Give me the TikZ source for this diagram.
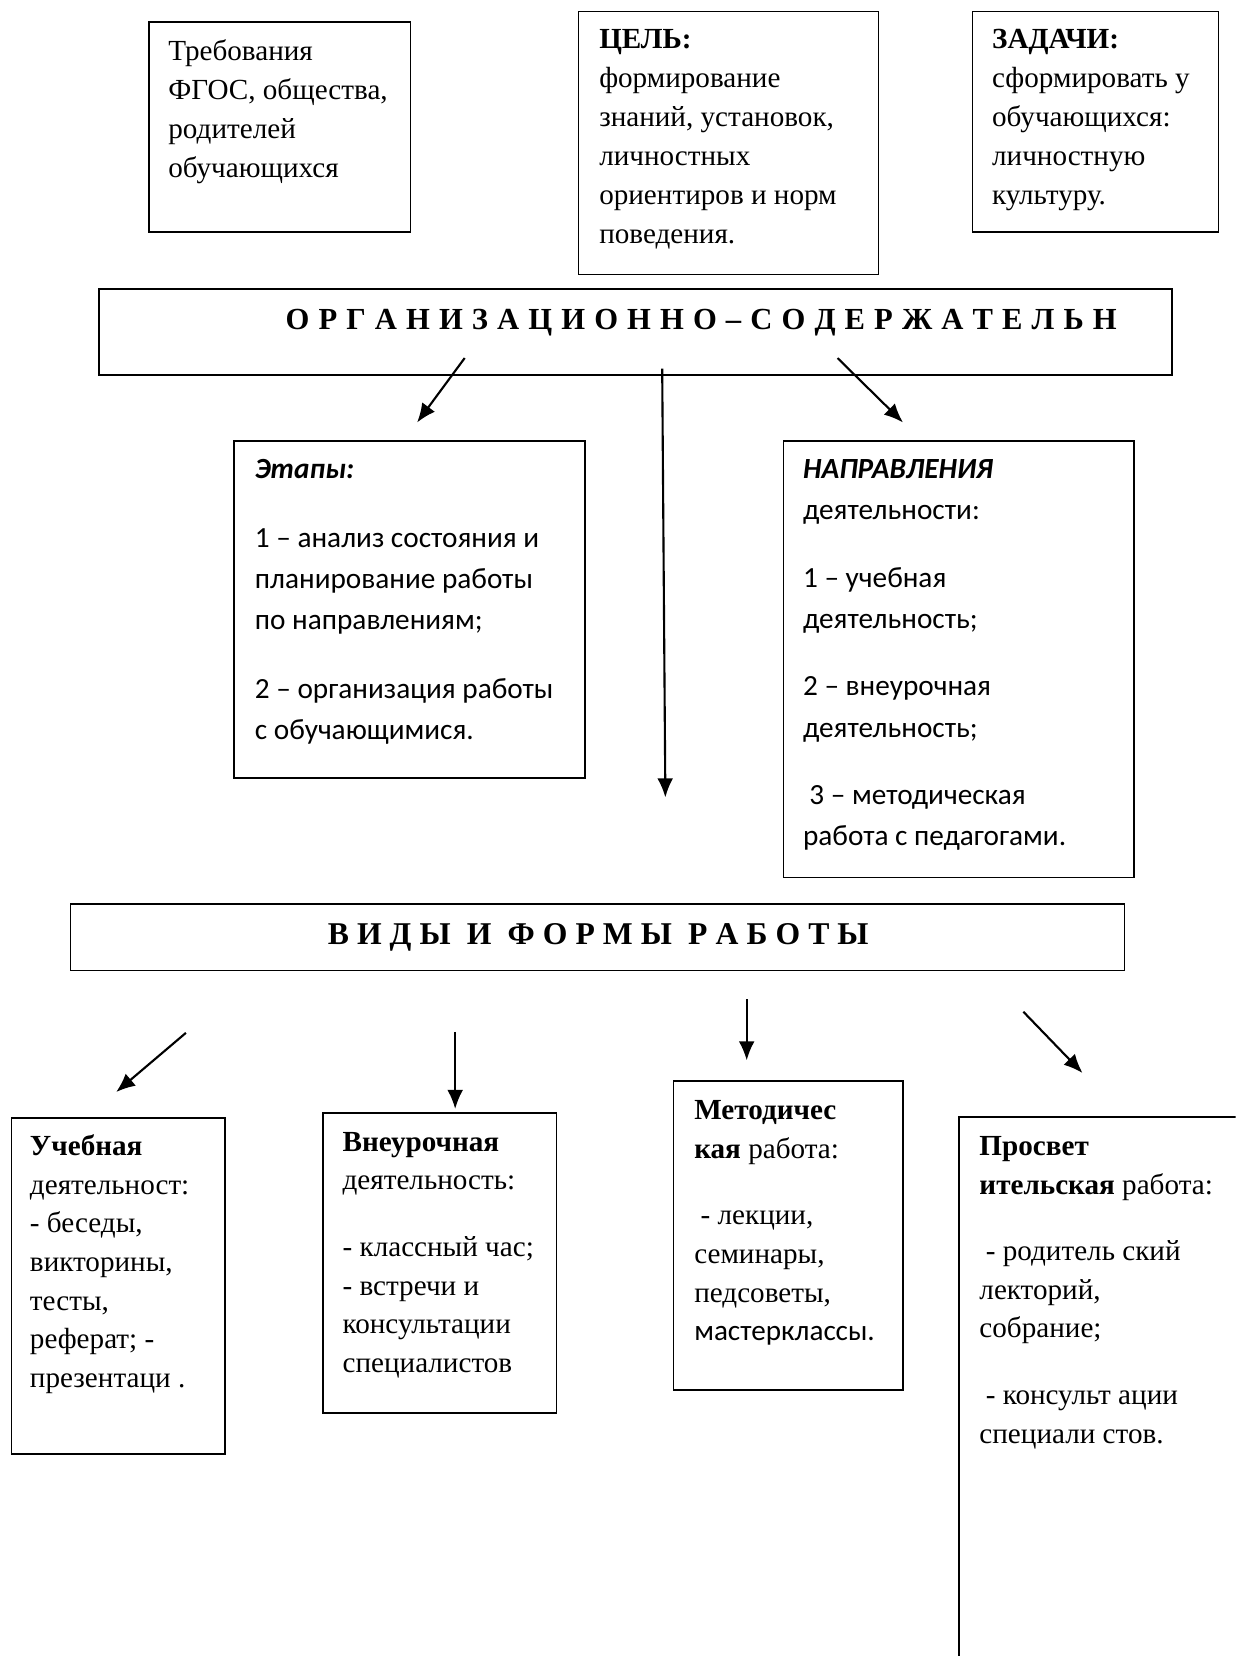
\documentclass[tikz,border=0pt]{standalone}
\usepackage{fontspec}
\setmainfont{Liberation Serif}
\newfontfamily\calib{Carlito}
\usetikzlibrary{arrows.meta}
\begin{document}
\begin{tikzpicture}[x=0.5pt,y=-0.5pt,
  box/.style={draw, line width=0.8pt, rectangle, inner sep=0pt, anchor=north west},
  conn/.style={line width=1pt, -{Latex[length=9pt,width=7.5pt]}},
  sertop/.style={anchor=base west, inner sep=0pt, font=\fontsize{13.8}{18.5}\selectfont},
  serbot/.style={anchor=base west, inner sep=0pt, font=\fontsize{13.8}{18.3}\selectfont},
  cal/.style={anchor=base west, inner sep=0pt, font=\calib\fontsize{13.85}{19.5}\selectfont},
  banner/.style={anchor=base west, inner sep=0pt, font=\bfseries\fontsize{14.5}{16}\selectfont},
]
\clip (0,0) rectangle (1170,1568);
\fill[white] (0,0) rectangle (1170,1568);

% top boxes
\node[box, minimum width=124pt, minimum height=99.5pt] (req) at (140,20) {};
\node[box, minimum width=142pt, minimum height=124.5pt] (goal) at (547,10) {};
\node[box, minimum width=116.5pt, minimum height=104.5pt] (tasks) at (920,10) {};
\node[sertop] (reqt) at (159,57) {\parbox[t]{120pt}{\raggedright Требования\\ФГОС, общества,\\родителей\\обучающихся}};
\node[sertop] (goalt) at (567,46) {\parbox[t]{140pt}{\raggedright \textbf{ЦЕЛЬ:}\\формирование\\знаний, установок,\\личностных\\ориентиров и норм\\поведения.}};
\node[sertop] (taskst) at (939,46) {\parbox[t]{120pt}{\raggedright \textbf{ЗАДАЧИ:}\\сформировать у\\обучающихся:\\личностную\\культуру.}};

% banner 1
\node[box, minimum width=508pt, minimum height=40.5pt] (ban1) at (93,273) {};
\node[banner] (ban1t) at (270,312) {\makebox[393.5pt][s]{О Р Г А Н И З А Ц И О Н Н О – С О Д Е Р Ж А Т Е Л Ь Н}};

% middle boxes
\node[box, minimum width=166pt, minimum height=159.5pt] (stages) at (221,417) {};
\node[box, minimum width=166pt, minimum height=206.5pt] (dirs) at (741,417) {};
\node[cal] (stagest) at (241,453) {\parbox[t]{160pt}{\raggedright \textbf{\itshape Этапы:}\\[13pt]1 – анализ состояния и\\планирование работы\\по направлениям;\\[13pt]2 – организация работы\\с обучающимися.}};
\node[cal] (dirst) at (760,453) {\parbox[t]{160pt}{\raggedright \textbf{\itshape НАПРАВЛЕНИЯ}\\деятельности:\\[12.5pt]1 – учебная\\деятельность;\\[12.5pt]2 – внеурочная\\деятельность;\\[12.5pt]\hspace*{3pt}3 – методическая\\работа с педагогами.}};

% banner 2
\node[box, minimum width=499pt, minimum height=31.5pt] (ban2) at (66,855) {};
\node[banner, font=\bfseries\fontsize{15}{16}\selectfont] (ban2t) at (310,894) {\makebox[256pt][s]{В И Д Ы\ \ И\ \ Ф О Р М Ы\ \ Р А Б О Т Ы}};

% bottom boxes
\node[box, minimum width=101pt, minimum height=159pt] (study) at (10,1058) {};
\node[box, minimum width=110.5pt, minimum height=142pt] (extra) at (305,1053) {};
\node[box, minimum width=108.5pt, minimum height=146pt] (method) at (637,1023) {};
\node[box, minimum width=141.5pt, minimum height=271.5pt] (educ) at (907,1057) {};
\node[serbot] (studyt) at (28,1094) {\parbox[t]{100pt}{\raggedright \textbf{Учебная}\\деятельност:\\- беседы,\\викторины,\\тесты,\\реферат; -\\презентаци .}};
\node[serbot] (extrat) at (324,1090) {\parbox[t]{110pt}{\raggedright \textbf{Внеурочная}\\деятельность:\\[13.2pt]- классный час;\\- встречи и\\консультации\\специалистов}};
\node[serbot] (methodt) at (657,1060) {\parbox[t]{110pt}{\raggedright \textbf{Методичес}\\\textbf{кая} работа:\\[13.2pt]\hspace*{3pt}- лекции,\\семинары,\\педсоветы,\\{\calib мастерклассы.}}};
\node[serbot] (educt) at (927,1094) {\parbox[t]{130pt}{\raggedright \textbf{Просвет}\\\textbf{ительская} работа:\\[13.2pt]\hspace*{3pt}- родитель ский\\лекторий,\\собрание;\\[13.2pt]\hspace*{3pt}- консульт ации\\специали стов.}};

% connectors
\coordinate (a1s) at (440,339); \coordinate (a1e) at (395,400);
\coordinate (a2s) at (627,349); \coordinate (a2e) at (630,755);
\coordinate (a3s) at (793,339); \coordinate (a3e) at (855,400);
\coordinate (b1s) at (176,978); \coordinate (b1e) at (110,1034);
\coordinate (b2s) at (431,977); \coordinate (b2e) at (431,1050);
\coordinate (b3s) at (707,946); \coordinate (b3e) at (707,1004);
\coordinate (b4s) at (969,958); \coordinate (b4e) at (1025,1016);
\draw[conn] (a1s) -- (a1e);
\draw[conn] (a2s) -- (a2e);
\draw[conn] (a3s) -- (a3e);
\draw[conn] (b1s) -- (b1e);
\draw[conn] (b2s) -- (b2e);
\draw[conn] (b3s) -- (b3e);
\draw[conn] (b4s) -- (b4e);
\end{tikzpicture}
\end{document}
